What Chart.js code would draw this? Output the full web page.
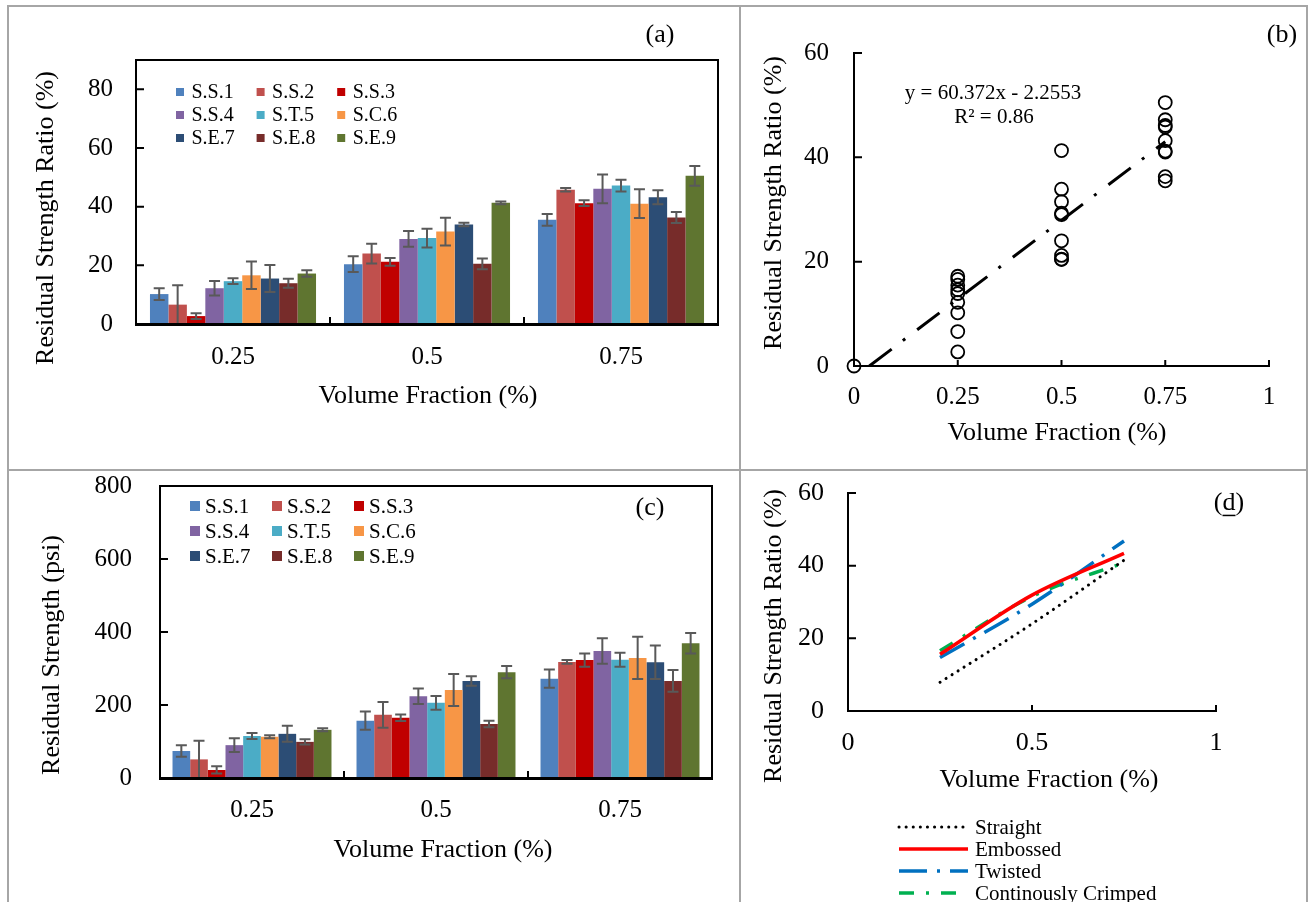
<!DOCTYPE html>
<html>
<head>
<meta charset="utf-8">
<script src="https://cdn.jsdelivr.net/npm/chart.js@4.4.1/dist/chart.umd.min.js"></script>
<style>
body{margin:0;background:#fff;}
#page{position:relative;width:1310px;height:902px;overflow:hidden;background:#fff;}
canvas{position:absolute;}
.rule{position:absolute;background:#a6a6a6;}
</style>
</head>
<body>
<div id="page">
<canvas id="chartA" width="740" height="470" style="left:0;top:0"></canvas>
<canvas id="chartB" width="570" height="470" style="left:740px;top:0"></canvas>
<canvas id="chartC" width="740" height="432" style="left:0;top:470px"></canvas>
<canvas id="chartD" width="570" height="432" style="left:740px;top:470px"></canvas>
<div class="rule" style="left:7px;top:5px;width:1301px;height:2px"></div>
<div class="rule" style="left:7px;top:5px;width:2px;height:897px"></div>
<div class="rule" style="left:739px;top:5px;width:2px;height:897px"></div>
<div class="rule" style="left:1306px;top:5px;width:2px;height:897px"></div>
<div class="rule" style="left:7px;top:469px;width:1301px;height:2px"></div>
</div>
<script>
// volume fractions and fibre types
var frac = ["0.25", "0.5", "0.75"];
var fracValues = [0.25, 0.5, 0.75];
var fiberNames = ["S.S.1", "S.S.2", "S.S.3", "S.S.4", "S.T.5", "S.C.6", "S.E.7", "S.E.8", "S.E.9"];
var fiberColors = ["#4F81BD", "#C0504D", "#C00000", "#8064A2", "#4BACC6", "#F79646", "#2C4D75", "#772C2A", "#5F7530"];

// (a) residual strength ratio (%) per fibre, with error
var ratio025 = [10.2, 6.6, 2.7, 12.2, 14.6, 16.6, 15.5, 13.9, 17.2];
var ratioErr025 = [2.0, 6.6, 1.0, 2.5, 1.0, 4.7, 4.6, 1.5, 1.1];
var ratio050 = [20.4, 24.0, 21.2, 29.0, 29.3, 31.5, 33.9, 20.5, 41.3];
var ratioErr050 = [2.7, 3.4, 1.3, 2.7, 3.2, 4.7, 0.6, 1.8, 0.5];
var ratio075 = [35.5, 45.8, 41.2, 46.1, 47.2, 41.0, 43.2, 36.3, 50.5];
var ratioErr075 = [2.0, 0.6, 1.0, 4.9, 2.0, 4.9, 2.4, 1.9, 3.4];

// (c) residual strength (psi)
var strength025 = [74, 51, 22, 90, 115, 113, 121, 99, 132];
var strengthErr025 = [16, 51, 10, 19, 8, 4, 22, 7, 4];
var strength050 = [157, 173, 165, 224, 206, 241, 266, 148, 290];
var strengthErr050 = [25, 35, 9, 21, 19, 44, 13, 9, 17];
var strength075 = [272, 318, 323, 348, 324, 329, 317, 266, 369];
var strengthErr075 = [25, 5, 18, 35, 19, 58, 46, 30, 28];

// (b) linear trend y = 60.372x - 2.2553
var trendX = [0.037, 0.75];
var trendY = [0, 43.0];

// (d) fitted curves by fibre shape
var curveNames = ["Straight", "Embossed", "Twisted", "Continously Crimped"];
var straightFit = [7.9, 24.0, 41.5];
var embossedFit = [15.6, 31.9, 43.4];
var twistedFit = [14.7, 29.4, 46.8];
var crimpedFit = [16.6, 31.5, 40.8];

var serif = "'Liberation Serif', 'Times New Roman', serif";
Chart.defaults.font.family = serif;
Chart.defaults.color = "#000";

function makeErrorBars(cfg) {
    return {
        id: "errorBars",
        afterDatasetsDraw: function (chart) {
            var ctx = chart.ctx, ys = chart.scales.y;
            ctx.save();
            ctx.strokeStyle = cfg.color;
            ctx.lineWidth = cfg.width;
            chart.data.datasets.forEach(function (ds, i) {
                chart.getDatasetMeta(i).data.forEach(function (bar, j) {
                    var top = ys.getPixelForValue(ds.data[j] + ds.errors[j]);
                    var bot = ys.getPixelForValue(Math.max(0, ds.data[j] - ds.errors[j]));
                    ctx.beginPath();
                    ctx.moveTo(bar.x, top); ctx.lineTo(bar.x, bot);
                    ctx.moveTo(bar.x - cfg.cap, top); ctx.lineTo(bar.x + cfg.cap, top);
                    ctx.moveTo(bar.x - cfg.cap, bot); ctx.lineTo(bar.x + cfg.cap, bot);
                    ctx.stroke();
                });
            });
            ctx.restore();
        }
    };
}

function makeFrame(w) {
    return {
        id: "frame",
        afterDraw: function (chart) {
            var a = chart.chartArea, ctx = chart.ctx;
            ctx.save();
            ctx.strokeStyle = "#000";
            ctx.lineWidth = w;
            ctx.strokeRect(a.left, a.top, a.right - a.left, a.bottom - a.top);
            ctx.restore();
        }
    };
}

// tick marks pointing into the plot
function makeInnerTicks(cfg) {
    return {
        id: "innerTicks",
        afterDraw: function (chart) {
            var ctx = chart.ctx, a = chart.chartArea, xs = chart.scales.x, ys = chart.scales.y;
            var xv = cfg.x || xs.ticks.map(function (t) { return t.value; });
            var yv = ys.ticks.map(function (t) { return t.value; });
            ctx.save();
            ctx.strokeStyle = "#000";
            ctx.lineWidth = cfg.width || 2;
            ctx.beginPath();
            xv.forEach(function (v) {
                var p = xs.getPixelForValue(v);
                ctx.moveTo(p, a.bottom); ctx.lineTo(p, a.bottom - cfg.xLen);
            });
            yv.forEach(function (v) {
                var p = ys.getPixelForValue(v);
                ctx.moveTo(a.left, p); ctx.lineTo(a.left + cfg.yLen, p);
            });
            ctx.stroke();
            ctx.restore();
        }
    };
}

function makeSwatchLegend(cfg) {
    return {
        id: "swatchLegend",
        afterDraw: function (chart) {
            var ctx = chart.ctx;
            ctx.save();
            ctx.font = cfg.size + "px " + serif;
            ctx.textBaseline = "middle";
            ctx.textAlign = "left";
            chart.data.datasets.forEach(function (ds, i) {
                var col = i % 3, row = Math.floor(i / 3);
                var x = cfg.x + col * cfg.colW, y = cfg.y + row * cfg.rowH;
                ctx.fillStyle = ds.backgroundColor;
                ctx.fillRect(x, y - cfg.box / 2, cfg.box, cfg.box);
                ctx.fillStyle = "#000";
                ctx.fillText(ds.label, x + cfg.textOff, y + 1);
            });
            ctx.restore();
        }
    };
}

function makeLineLegend(cfg) {
    return {
        id: "lineLegend",
        afterDraw: function (chart) {
            var ctx = chart.ctx;
            ctx.save();
            ctx.font = cfg.size + "px " + serif;
            ctx.textBaseline = "middle";
            chart.data.datasets.forEach(function (ds, i) {
                var y = cfg.y + i * cfg.rowH;
                ctx.strokeStyle = ds.borderColor;
                ctx.lineWidth = ds.borderWidth;
                ctx.lineCap = ds.borderCapStyle || "butt";
                ctx.setLineDash(ds.borderDash || []);
                ctx.beginPath();
                ctx.moveTo(cfg.x, y); ctx.lineTo(cfg.x + cfg.len, y);
                ctx.stroke();
                ctx.fillStyle = "#000";
                ctx.fillText(ds.label, cfg.x + cfg.len + cfg.gap, y + 1);
            });
            ctx.restore();
        }
    };
}

function makeNotes(items) {
    return {
        id: "notes",
        afterDraw: function (chart) {
            var ctx = chart.ctx;
            items.forEach(function (it) {
                ctx.save();
                ctx.font = it.size + "px " + serif;
                ctx.fillStyle = "#000";
                ctx.textAlign = "center";
                ctx.textBaseline = "middle";
                ctx.translate(it.x, it.y);
                if (it.rot) ctx.rotate(it.rot * Math.PI / 180);
                ctx.fillText(it.text, 0, 0);
                if (it.under) {
                    var full = ctx.measureText(it.text).width;
                    var pre = ctx.measureText(it.text.slice(0, it.under)).width;
                    var w = ctx.measureText(it.text.charAt(it.under)).width;
                    ctx.fillRect(-full / 2 + pre, it.size * 0.45, w, 1.5);
                }
                ctx.restore();
            });
        }
    };
}

// fixed axis size, no extra room for overhanging labels
function fixSize(dim, px) {
    return function (s) {
        s[dim] = px;
        s.paddingTop = 0; s.paddingBottom = 0;
        s.paddingLeft = 0; s.paddingRight = 0;
    };
}

function barSets(g1, e1, g2, e2, g3, e3, pct) {
    return fiberNames.map(function (name, i) {
        return {
            label: name,
            data: [g1[i], g2[i], g3[i]],
            errors: [e1[i], e2[i], e3[i]],
            backgroundColor: fiberColors[i],
            borderWidth: 0,
            barPercentage: 1,
            categoryPercentage: pct
        };
    });
}

function barOptions(cfg) {
    return {
        responsive: false,
        animation: false,
        layout: { padding: { left: 0, top: cfg.top, right: cfg.right, bottom: 0 } },
        plugins: { legend: { display: false }, tooltip: { enabled: false } },
        scales: {
            x: {
                z: 1,
                grid: { display: false, drawTicks: false },
                border: { color: "#000", width: 3 },
                ticks: { font: { size: 25 }, padding: cfg.xPad, color: "#000" },
                afterFit: fixSize("height", cfg.xHeight)
            },
            y: {
                z: 1,
                min: 0,
                max: cfg.max,
                grid: { display: false, drawTicks: false },
                border: { color: "#000", width: 2 },
                ticks: { stepSize: cfg.step, font: { size: 25 }, padding: cfg.yPad, color: "#000" },
                afterBuildTicks: function (s) {
                    s.ticks = s.ticks.filter(function (t) { return t.value % cfg.step === 0; });
                },
                afterFit: fixSize("width", cfg.yWidth)
            }
        }
    };
}

// (a)
new Chart(document.getElementById("chartA"), {
    type: "bar",
    data: { labels: frac, datasets: barSets(ratio025, ratioErr025, ratio050, ratioErr050, ratio075, ratioErr075, 0.856) },
    options: barOptions({ top: 60, right: 22, xHeight: 146, yWidth: 136, xPad: 18, yPad: 23, max: 90, step: 20 }),
    plugins: [
        makeErrorBars({ color: "#595959", width: 2, cap: 5.5 }),
        makeFrame(2),
        makeInnerTicks({ x: [0.5, 1.5], xLen: 7, yLen: 8 }),
        makeSwatchLegend({ x: 176, y: 92, colW: 80.6, rowH: 23, box: 8, textOff: 15.5, size: 20 }),
        makeNotes([
            { text: "Residual Strength Ratio (%)", x: 46, y: 218, rot: -90, size: 26 },
            { text: "Volume Fraction (%)", x: 428, y: 396, size: 26 },
            { text: "(a)", x: 660, y: 35, size: 26 }
        ])
    ]
});

// (c)
new Chart(document.getElementById("chartC"), {
    type: "bar",
    data: { labels: frac, datasets: barSets(strength025, strengthErr025, strength050, strengthErr050, strength075, strengthErr075, 0.864) },
    options: barOptions({ top: 16, right: 28, xHeight: 124, yWidth: 160, xPad: 17, yPad: 28, max: 800, step: 200 }),
    plugins: [
        makeErrorBars({ color: "#595959", width: 2, cap: 5.5 }),
        makeFrame(2),
        makeInnerTicks({ x: [0.5, 1.5], xLen: 7, yLen: 8 }),
        makeSwatchLegend({ x: 190, y: 36, colW: 82, rowH: 25, box: 10, textOff: 15, size: 21 }),
        makeNotes([
            { text: "Residual Strength (psi)", x: 52, y: 185, rot: -90, size: 26 },
            { text: "Volume Fraction (%)", x: 443, y: 380, size: 26 },
            { text: "(c)", x: 650, y: 38, size: 26 }
        ])
    ]
});

// (b) scatter of all ratios with linear trend
var scatterPts = [{ x: 0, y: 0 }];
[ratio025, ratio050, ratio075].forEach(function (grp, k) {
    grp.forEach(function (v) { scatterPts.push({ x: fracValues[k], y: v }); });
});
var trendPts = trendX.map(function (x, i) { return { x: x, y: trendY[i] }; });

function lineAxes(cfg) {
    return {
        x: {
            type: "linear", min: 0, max: 1,
            grid: { display: false, drawTicks: false },
            border: { color: "#000", width: 2 },
            ticks: {
                stepSize: cfg.xStep, font: { size: cfg.tick }, padding: cfg.xPad, color: "#000",
                callback: function (v) { return String(Math.round(v * 100) / 100); }
            },
            afterFit: fixSize("height", cfg.xHeight)
        },
        y: {
            min: 0, max: 60,
            grid: { display: false, drawTicks: false },
            border: { color: "#000", width: 2 },
            ticks: { stepSize: 20, font: { size: cfg.tick }, padding: cfg.yPad, color: "#000" },
            afterFit: fixSize("width", cfg.yWidth)
        }
    };
}

new Chart(document.getElementById("chartB"), {
    type: "scatter",
    data: {
        datasets: [
            {
                label: "Residual Strength Ratio",
                data: scatterPts,
                pointStyle: "circle",
                pointRadius: 6.5,
                pointBorderWidth: 1.8,
                pointBorderColor: "#000",
                pointBackgroundColor: "rgba(255,255,255,0)",
                clip: false
            },
            {
                label: "Linear",
                data: trendPts,
                showLine: true,
                pointRadius: 0,
                borderColor: "#000",
                borderWidth: 3,
                borderDash: [28, 14, 3, 15]
            }
        ]
    },
    options: {
        responsive: false,
        animation: false,
        layout: { padding: { left: 0, top: 53, right: 41, bottom: 0 } },
        plugins: { legend: { display: false }, tooltip: { enabled: false } },
        scales: lineAxes({ xStep: 0.25, tick: 25, xPad: 16, yPad: 25, xHeight: 104, yWidth: 114 })
    },
    plugins: [
        makeInnerTicks({ xLen: 6, yLen: 8 }),
        makeNotes([
            { text: "Residual Strength Ratio (%)", x: 34.5, y: 203, rot: -90, size: 26 },
            { text: "Volume Fraction (%)", x: 317, y: 433, size: 26 },
            { text: "(b)", x: 542, y: 35, size: 26 },
            { text: "y = 60.372x - 2.2553", x: 253, y: 93, size: 21 },
            { text: "R\u00B2 = 0.86", x: 254, y: 117, size: 21 }
        ])
    ]
});

// (d) fitted curves
function curve(vals) {
    return vals.map(function (v, i) { return { x: fracValues[i], y: v }; });
}

new Chart(document.getElementById("chartD"), {
    type: "line",
    data: {
        datasets: [
            { label: curveNames[0], data: curve(straightFit), borderColor: "#000", borderWidth: 3, borderDash: [0.1, 7], borderCapStyle: "round" },
            { label: curveNames[1], data: curve(embossedFit), borderColor: "#FF0000", borderWidth: 3.5 },
            { label: curveNames[2], data: curve(twistedFit), borderColor: "#0070C0", borderWidth: 3.5, borderDash: [28, 10, 3, 10] },
            { label: curveNames[3], data: curve(crimpedFit), borderColor: "#00B050", borderWidth: 3.5, borderDash: [15, 12, 3, 12] }
        ]
    },
    options: {
        responsive: false,
        animation: false,
        elements: { point: { radius: 0 }, line: { tension: 0.4, cubicInterpolationMode: "monotone" } },
        layout: { padding: { left: 0, top: 23, right: 94, bottom: 0 } },
        plugins: { legend: { display: false }, tooltip: { enabled: false } },
        scales: lineAxes({ xStep: 0.5, tick: 26, xPad: 17, yPad: 24, xHeight: 191, yWidth: 108 })
    },
    plugins: [
        makeInnerTicks({ xLen: 6, yLen: 8 }),
        makeLineLegend({ x: 159, y: 357, rowH: 22, len: 69, gap: 7, size: 21 }),
        makeNotes([
            { text: "Residual Strength Ratio (%)", x: 34.5, y: 166, rot: -90, size: 26 },
            { text: "Volume Fraction (%)", x: 309, y: 310, size: 26 },
            { text: "(d)", x: 489, y: 33, size: 26, under: 1 }
        ])
    ]
});
</script>
</body>
</html>
